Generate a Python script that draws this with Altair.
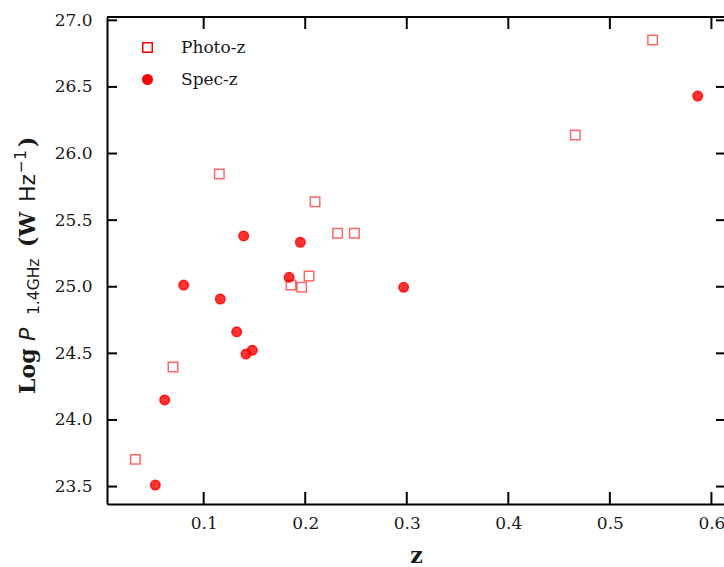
import altair as alt
import pandas as pd

# ---- data ----
photo_z = [0.0327, 0.0698, 0.1154, 0.1860, 0.1965, 0.2038, 0.2097, 0.2319, 0.2484, 0.4660, 0.5421]
photo_p = [23.704, 24.397, 25.846, 25.013, 24.996, 25.081, 25.638, 25.401, 25.401, 26.139, 26.852]

spec_z = [0.0524, 0.0616, 0.0803, 0.1164, 0.1325, 0.1394, 0.1417, 0.1479, 0.1841, 0.1952, 0.2969, 0.5865]
spec_p = [23.511, 24.150, 25.013, 24.908, 24.662, 25.381, 24.495, 24.523, 25.071, 25.334, 24.996, 26.432]

categories = ["Photo-z", "Spec-z"]
x_ticks = [0.1, 0.2, 0.3, 0.4, 0.5, 0.6]
y_ticks = [23.5, 24.0, 24.5, 25.0, 25.5, 26.0, 26.5, 27.0]

X_DOMAIN = [0.0048, 0.6124]
Y_DOMAIN = [23.369, 27.025]
W, H = 617, 487

pts = pd.DataFrame({
    "z": photo_z + spec_z,
    "logP": photo_p + spec_p,
    "type": [categories[0]] * len(photo_z) + [categories[1]] * len(spec_z),
})

SERIF = "DejaVu Serif"

xscale = alt.Scale(domain=X_DOMAIN, nice=False, zero=False)
yscale = alt.Scale(domain=Y_DOMAIN, nice=False, zero=False)
xaxis = alt.Axis(values=x_ticks, format=".1f", ticks=False, grid=False, domain=True,
                 domainColor="black", domainWidth=2, labelFont=SERIF, labelFontSize=17,
                 labelColor="#1a1a1a", labelPadding=11, title=None)
yaxis = alt.Axis(values=y_ticks, format=".1f", ticks=False, grid=False, domain=True,
                 domainColor="black", domainWidth=2, labelFont=SERIF, labelFontSize=17,
                 labelColor="#1a1a1a", labelPadding=15, title=None)

points = alt.Chart(pts).mark_point(
    strokeWidth=1.5, size=90, fillOpacity=0.8, filled=False
).encode(
    x=alt.X("z:Q", scale=xscale, axis=xaxis),
    y=alt.Y("logP:Q", scale=yscale, axis=yaxis),
    shape=alt.Shape("type:N", scale=alt.Scale(domain=categories, range=["square", "circle"]),
                    legend=alt.Legend(orient="none", legendX=32, legendY=22, title=None,
                                      labelFont=SERIF, labelFontSize=17, labelColor="#1a1a1a",
                                      symbolSize=90, rowPadding=14, labelOffset=25, padding=0,
                                      symbolStrokeWidth=1.5)),
    fill=alt.Fill("type:N", scale=alt.Scale(domain=categories, range=["transparent", "#ff0000"])),
    stroke=alt.Stroke("type:N", scale=alt.Scale(domain=categories, range=["#ff0000", "#ff0000"])),
    strokeOpacity=alt.StrokeOpacity("type:N", scale=alt.Scale(domain=categories, range=[0.6, 0.85])),
)

xt = pd.DataFrame({"z": x_ticks})
yt = pd.DataFrame({"logP": y_ticks})

tick_bottom = alt.Chart(xt).mark_rule(color="black", strokeWidth=2).encode(
    x=alt.X("z:Q", scale=xscale, axis=xaxis), y=alt.value(H), y2=alt.value(H - 12))
tick_top = alt.Chart(xt).mark_rule(color="black", strokeWidth=2).encode(
    x=alt.X("z:Q", scale=xscale, axis=xaxis), y=alt.value(0), y2=alt.value(12))
tick_left = alt.Chart(yt).mark_rule(color="black", strokeWidth=2).encode(
    y=alt.Y("logP:Q", scale=yscale, axis=yaxis), x=alt.value(0), x2=alt.value(10))
tick_right = alt.Chart(yt).mark_rule(color="black", strokeWidth=2).encode(
    y=alt.Y("logP:Q", scale=yscale, axis=yaxis), x=alt.value(W), x2=alt.value(W - 8))

one = pd.DataFrame({"a": [0]})
top_spine = alt.Chart(one).mark_rule(color="black", strokeWidth=2).encode(
    x=alt.value(0), x2=alt.value(W), y=alt.value(0))

# x title
xtitle = alt.Chart(one).mark_text(
    text="z", font=SERIF, fontWeight="bold", fontSize=22, align="center",
    baseline="alphabetic", color="#1a1a1a").encode(x=alt.value(309.5), y=alt.value(546))

# y title built from pieces (rotated)
ypieces = [
    # text, font, size, weight, style, baseline x (view), start y (view)
    ("Log", SERIF, 22, "bold", "normal", -72, 377),
    ("P", "DejaVu Sans", 22, "normal", "italic", -72, 324),
    ("1.4GHz", "DejaVu Sans", 15.5, "normal", "normal", -68, 298),
    ("(W", SERIF, 22, "bold", "normal", -72, 230),
    ("Hz", "DejaVu Sans", 22, "normal", "normal", -72, 185),
    ("\u22121", "DejaVu Sans", 15.5, "normal", "normal", -81, 156),
    (")", SERIF, 22, "bold", "normal", -72, 130),
]
ylayers = []
for txt, font, size, weight, style, bx, sy in ypieces:
    ylayers.append(alt.Chart(one).mark_text(
        text=txt, font=font, fontSize=size, fontWeight=weight, fontStyle=style,
        angle=270, align="left", baseline="alphabetic", color="#1a1a1a"
    ).encode(x=alt.value(bx), y=alt.value(sy)))

chart = alt.layer(
    points, tick_bottom, tick_top, tick_left, tick_right, top_spine, xtitle, *ylayers
).properties(
    width=W, height=H,
    padding={"left": 107, "top": 17, "right": 0, "bottom": 63},
    autosize=alt.AutoSizeParams(type="none"),
).configure_view(stroke=None)

chart.save("out.html", embed_options={"renderer": "svg", "actions": False})
